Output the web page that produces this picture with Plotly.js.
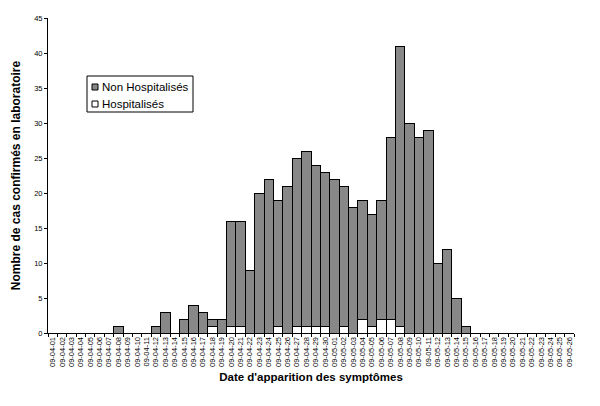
<!DOCTYPE html>
<html>
<head>
<meta charset="utf-8">
<script src="https://cdn.plot.ly/plotly-3.0.1.min.js"></script>
<style>
  html, body { margin: 0; padding: 0; background: #fff; }
  #chart { width: 600px; height: 406px; }
</style>
</head>
<body>
<div id="chart"></div>
<script>
// ── Data: cases by symptom-onset date ──────────────────────────────
const dates = [
  "09-04-01","09-04-02","09-04-03","09-04-04","09-04-05","09-04-06","09-04-07","09-04-08",
  "09-04-09","09-04-10","09-04-11","09-04-12","09-04-13","09-04-14","09-04-15","09-04-16",
  "09-04-17","09-04-18","09-04-19","09-04-20","09-04-21","09-04-22","09-04-23","09-04-24",
  "09-04-25","09-04-26","09-04-27","09-04-28","09-04-29","09-04-30","09-05-01","09-05-02",
  "09-05-03","09-05-04","09-05-05","09-05-06","09-05-07","09-05-08","09-05-09","09-05-10",
  "09-05-11","09-05-12","09-05-13","09-05-14","09-05-15","09-05-16","09-05-17","09-05-18",
  "09-05-19","09-05-20","09-05-21","09-05-22","09-05-23","09-05-24","09-05-25","09-05-26"
];

// Hospitalised cases (bottom of the stack)
const hospitalises = [
  0,0,0,0,0,0,0,0,
  0,0,0,0,0,0,0,0,
  0,1,0,1,1,0,0,0,
  1,0,1,1,1,1,0,1,
  0,2,1,2,2,1,0,0,
  0,0,0,0,0,0,0,0,
  0,0,0,0,0,0,0,0
];

// Non-hospitalised cases (top of the stack)
const nonHospitalises = [
  0,0,0,0,0,0,0,1,
  0,0,0,1,3,0,2,4,
  3,1,2,15,15,9,20,22,
  18,21,24,25,23,22,22,20,
  18,17,16,17,26,40,30,28,
  29,10,12,5,1,0,0,0,
  0,0,0,0,0,0,0,0
];

const yTicks = [0, 5, 10, 15, 20, 25, 30, 35, 40, 45];
const seriesNames = ["Non Hospitalisés", "Hospitalisés"];
const seriesColors = ["#888888", "#ffffff"];

const FONT = "Arial, 'Liberation Sans', sans-serif";
const outline = { color: "#000", width: 1 };

// ── Layout geometry (pixels) ───────────────────────────────────────
const W = 600, H = 406;
const M = { l: 48, r: 26, t: 18, b: 73 };
const plotW = W - M.l - M.r;
const plotH = H - M.t - M.b;
const px = x => (x - M.l) / plotW;        // pixel -> paper x
const py = y => (H - M.b - y) / plotH;    // pixel -> paper y

// Hospitalised first so it sits at the bottom of each stack
const traces = [
  {
    type: "bar",
    name: seriesNames[1],
    x: dates,
    y: hospitalises,
    marker: { color: seriesColors[1], line: outline },
  },
  {
    type: "bar",
    name: seriesNames[0],
    x: dates,
    y: nonHospitalises,
    marker: { color: seriesColors[0], line: outline },
  },
];

// ── Excel-style compact legend box ─────────────────────────────────
const shapes = [
  {
    type: "rect", xref: "paper", yref: "paper",
    x0: px(87), x1: px(193), y0: py(112), y1: py(76),
    line: { color: "#000", width: 1 }, fillcolor: "#fff",
  },
];
const annotations = [];
seriesNames.forEach((name, i) => {
  const cy = 87 + i * 17;
  shapes.push({
    type: "rect", xref: "paper", yref: "paper",
    x0: px(92), x1: px(98), y0: py(cy + 3), y1: py(cy - 3),
    line: { color: "#000", width: 1 }, fillcolor: seriesColors[i],
  });
  annotations.push({
    xref: "paper", yref: "paper",
    x: px(100), y: py(cy),
    xanchor: "left", yanchor: "middle",
    text: name, showarrow: false,
    font: { size: 11.5, family: FONT, color: "#000" },
  });
});

const layout = {
  width: W,
  height: H,
  barmode: "stack",
  bargap: 0,
  margin: M,
  paper_bgcolor: "#fff",
  plot_bgcolor: "#fff",
  font: { family: FONT, color: "#000" },
  showlegend: false,
  shapes,
  annotations,
  xaxis: {
    type: "category",
    tickangle: -90,
    tickfont: { size: 7.5, family: FONT },
    ticks: "outside",
    ticklen: 3,
    tickson: "boundaries",
    tickcolor: "#000",
    showline: true,
    linecolor: "#000",
    linewidth: 1,
    showgrid: false,
    zeroline: false,
    title: {
      text: "Date d'apparition des symptômes",
      font: { size: 11.5, family: FONT, weight: "bold" },
      standoff: 6,
    },
  },
  yaxis: {
    range: [0, 45],
    tickvals: yTicks,
    ticktext: yTicks.map(String),
    tickfont: { size: 7.5, family: FONT },
    ticks: "outside",
    ticklen: 3,
    tickcolor: "#000",
    showline: true,
    linecolor: "#000",
    linewidth: 1,
    showgrid: false,
    zeroline: false,
    title: {
      text: "Nombre de cas confirmés en laboratoire",
      font: { size: 12, family: FONT, weight: "bold" },
      standoff: 10,
    },
  },
};

Plotly.newPlot("chart", traces, layout, { displayModeBar: false, staticPlot: true });
</script>
</body>
</html>
